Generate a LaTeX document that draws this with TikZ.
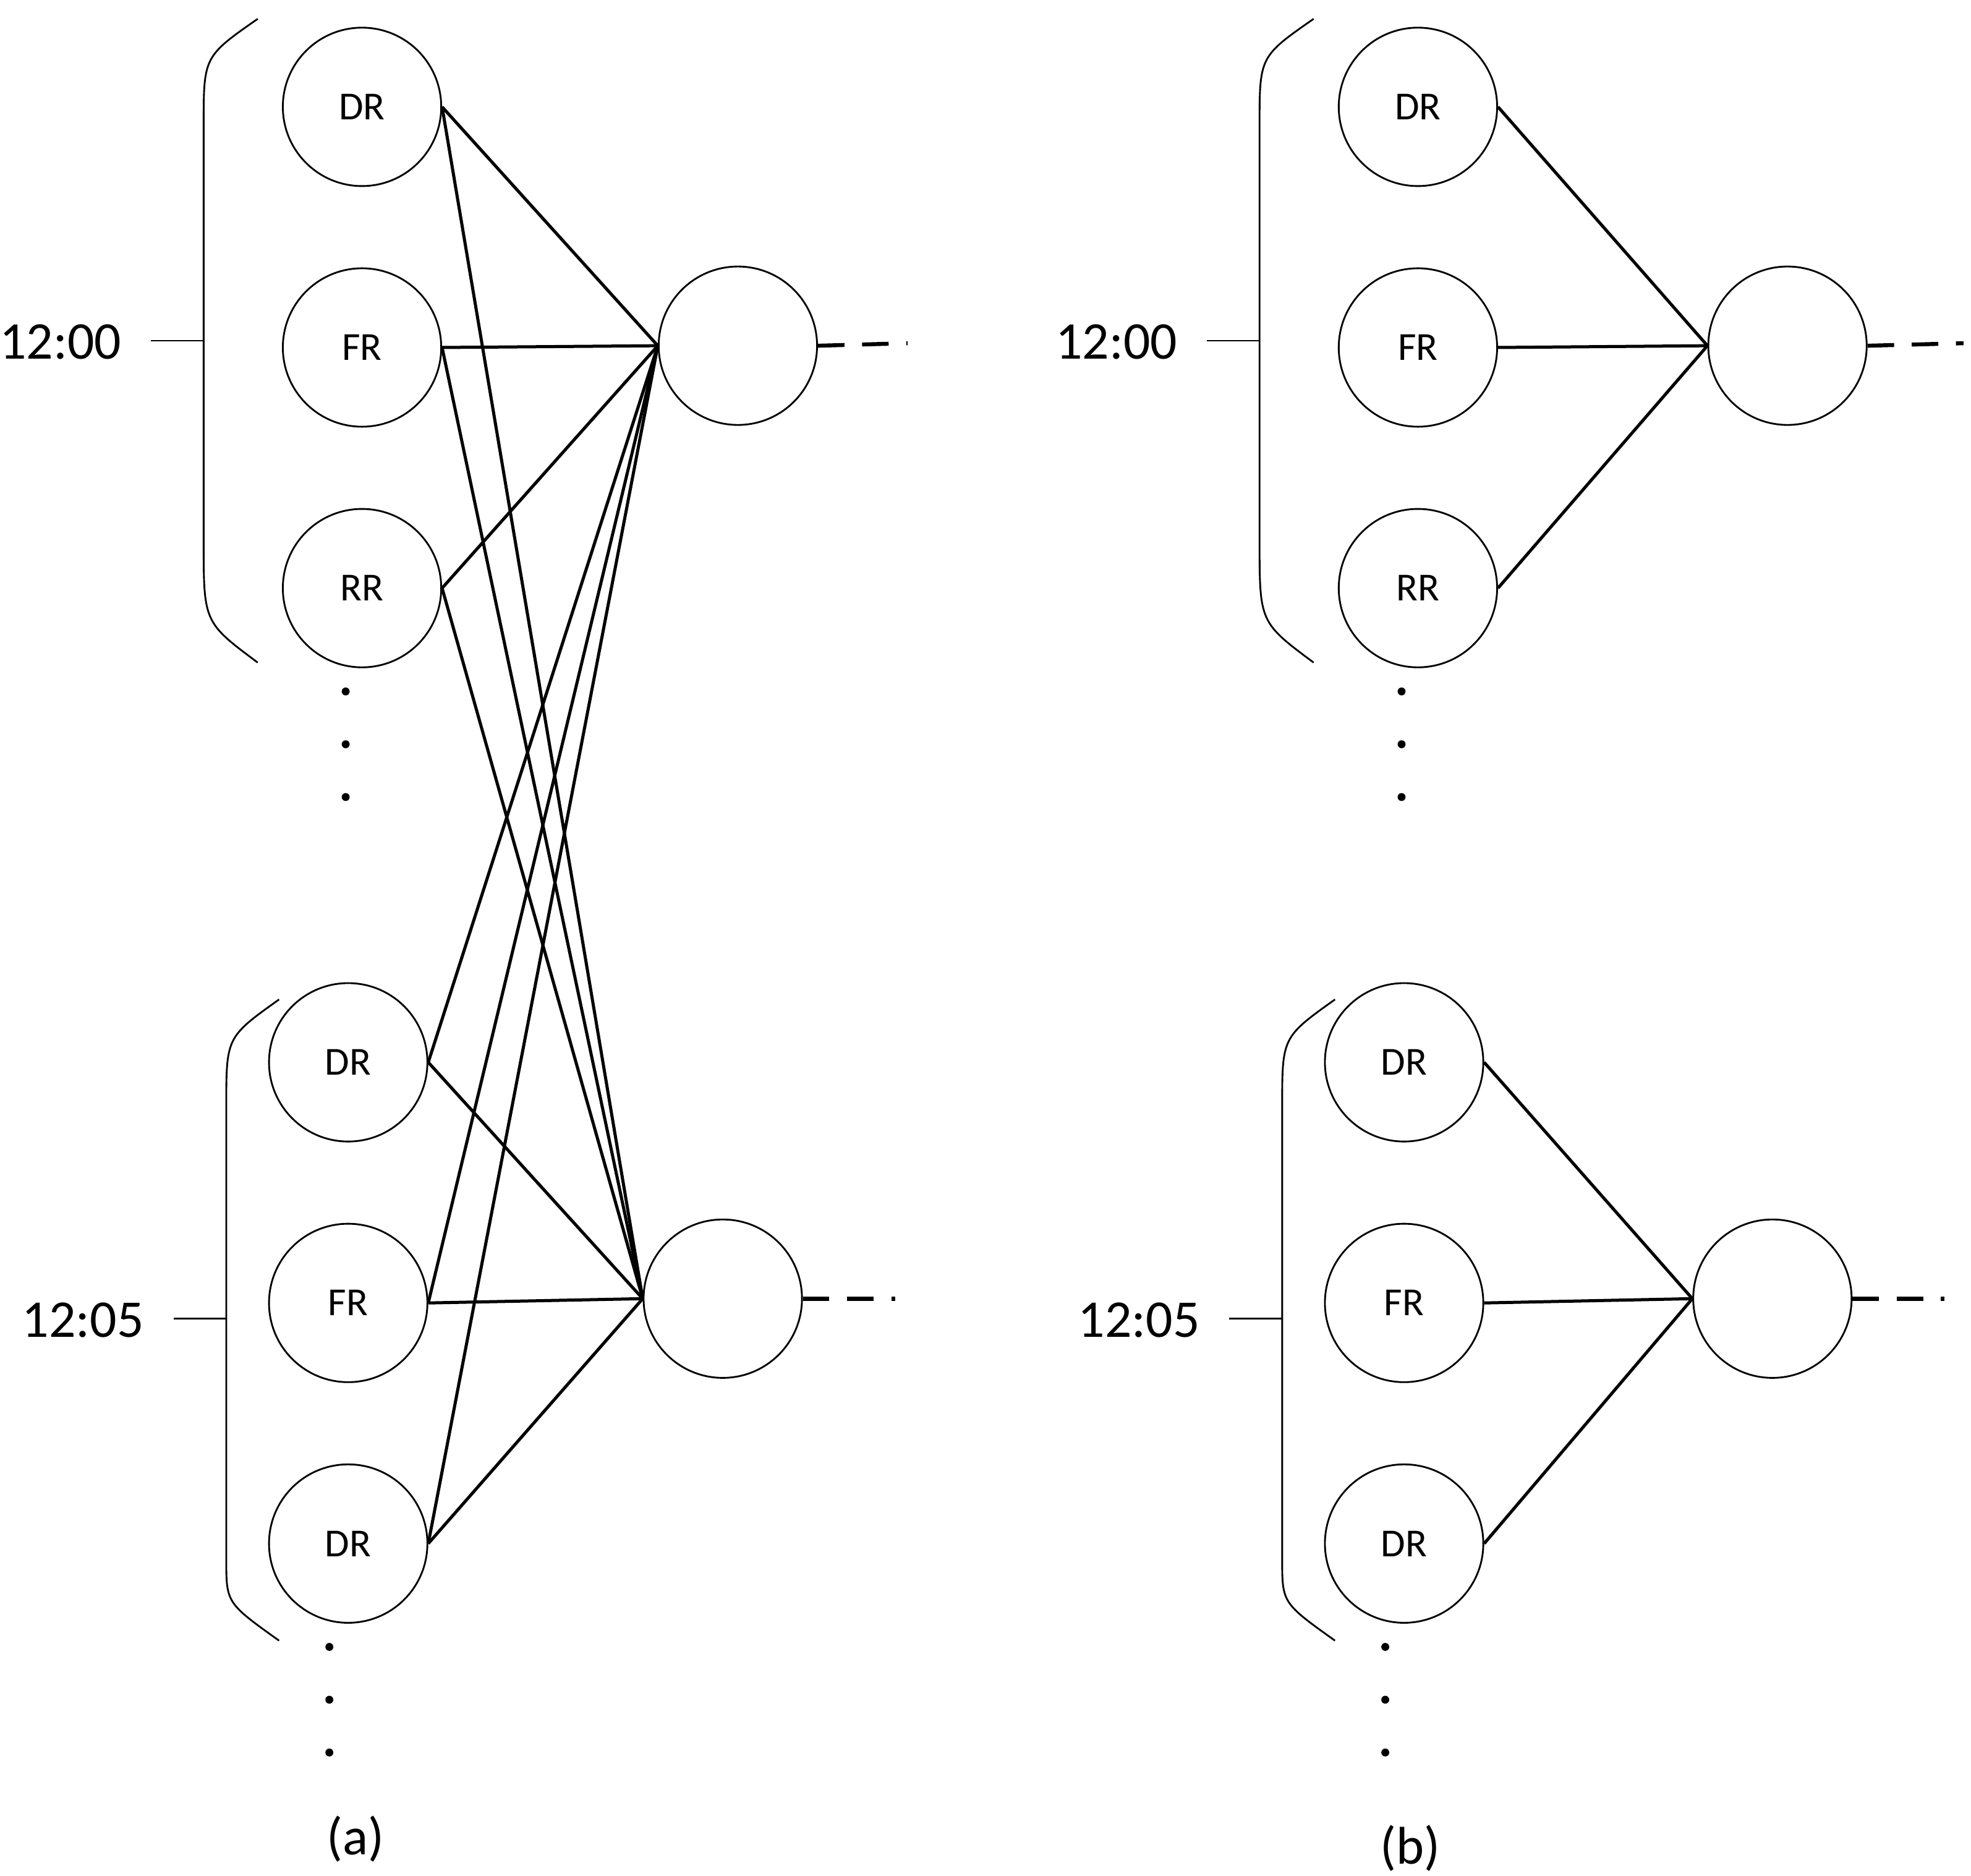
\documentclass[tikz,border=0pt]{standalone}
\usepackage{fontspec}
\setmainfont{Carlito}
\usetikzlibrary{positioning}

\tikzset{
  unit/.style={draw, circle, minimum size=1.26cm, inner sep=0pt, font=\fontsize{9}{10}\selectfont},
  link/.style={line width=0.7pt},
  tail/.style={line width=0.9pt, dash pattern=on 6pt off 4pt},
  time/.style={font=\fontsize{12}{14}\selectfont},
}

\begin{document}
\begin{tikzpicture}[x=1cm, y=1cm]
  \useasboundingbox (0,0) rectangle (15.68,-14.92);

  % Panel (a)
  \node[unit] (aT1) at (2.88,-0.85) {DR};
  \node[unit] (aT2) [below=0.64cm of aT1] {FR};
  \node[unit] (aT3) [below=0.64cm of aT2] {RR};
  \node[unit] (aTo) at (5.87,-2.75) {};
  \node[unit] (aB1) at (2.77,-8.45) {DR};
  \node[unit] (aB2) [below=0.64cm of aB1] {FR};
  \node[unit] (aB3) [below=0.64cm of aB2] {DR};
  \node[unit] (aBo) at (5.75,-10.33) {};

  \draw[thin] (2.05,-0.15) .. controls (1.62,-0.45) .. (1.62,-1.0) -- (1.62,-4.3) .. controls (1.62,-4.95) .. (2.05,-5.27);
  \draw[thin] (2.22,-7.95) .. controls (1.80,-8.25) .. (1.80,-8.8) -- (1.80,-12.4) .. controls (1.80,-12.75) .. (2.22,-13.05);
  \node[time] (aL1) at (0.48,-2.72) {12:00};
  \node[time] (aL2) at (0.66,-10.5) {12:05};
  \coordinate (aK1) at (1.62,-2.71);
  \coordinate (aK2) at (1.80,-10.49);
  \draw[thin] (1.20,-2.71) -- (aK1);
  \draw[thin] (1.38,-10.49) -- (aK2);

  \foreach \n in {aT1,aT2,aT3,aB1,aB2,aB3} {
    \draw[link] (\n.east) -- (aTo.west);
    \draw[link] (\n.east) -- (aBo.west);
  }
  \coordinate (aE1) at (7.22,-2.73);
  \coordinate (aE2) at (7.12,-10.33);
  \draw[tail] (aTo.east) -- (aE1);
  \draw[tail] (aBo.east) -- (aE2);

  \foreach \y in {5.5,5.92,6.34} \fill (2.75,-\y) circle (0.9pt);
  \foreach \y in {13.1,13.52,13.94} \fill (2.62,-\y) circle (0.9pt);
  \node[time] (aCap) at (2.83,-14.63) {(a)};

  % Panel (b)
  \node[unit] (bT1) at (11.28,-0.85) {DR};
  \node[unit] (bT2) [below=0.64cm of bT1] {FR};
  \node[unit] (bT3) [below=0.64cm of bT2] {RR};
  \node[unit] (bTo) at (14.22,-2.75) {};
  \node[unit] (bB1) at (11.17,-8.45) {DR};
  \node[unit] (bB2) [below=0.64cm of bB1] {FR};
  \node[unit] (bB3) [below=0.64cm of bB2] {DR};
  \node[unit] (bBo) at (14.10,-10.33) {};

  \draw[thin] (10.45,-0.15) .. controls (10.02,-0.45) .. (10.02,-1.0) -- (10.02,-4.3) .. controls (10.02,-4.95) .. (10.45,-5.27);
  \draw[thin] (10.62,-7.95) .. controls (10.20,-8.25) .. (10.20,-8.8) -- (10.20,-12.4) .. controls (10.20,-12.75) .. (10.62,-13.05);
  \node[time] (bL1) at (8.88,-2.72) {12:00};
  \node[time] (bL2) at (9.06,-10.5) {12:05};
  \coordinate (bK1) at (10.02,-2.71);
  \coordinate (bK2) at (10.20,-10.49);
  \draw[thin] (9.60,-2.71) -- (bK1);
  \draw[thin] (9.78,-10.49) -- (bK2);

  \foreach \n in {bT1,bT2,bT3} \draw[link] (\n.east) -- (bTo.west);
  \foreach \n in {bB1,bB2,bB3} \draw[link] (\n.east) -- (bBo.west);
  \coordinate (bE1) at (15.62,-2.73);
  \coordinate (bE2) at (15.47,-10.33);
  \draw[tail] (bTo.east) -- (bE1);
  \draw[tail] (bBo.east) -- (bE2);

  \foreach \y in {5.5,5.92,6.34} \fill (11.15,-\y) circle (0.9pt);
  \foreach \y in {13.1,13.52,13.94} \fill (11.02,-\y) circle (0.9pt);
  \node[time] (bCap) at (11.22,-14.7) {(b)};
\end{tikzpicture}
\end{document}
